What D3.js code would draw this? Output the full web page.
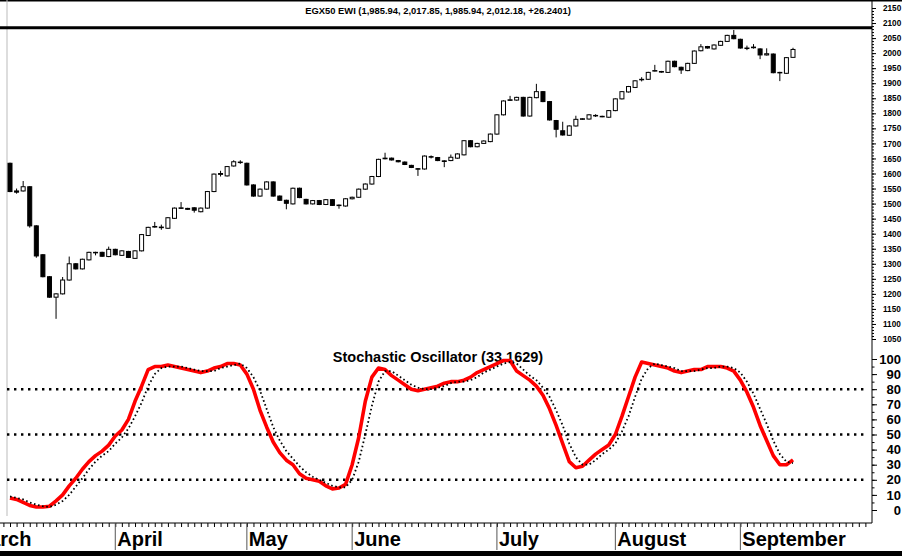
<html>
<head>
<meta charset="utf-8">
<title>EGX50 EWI</title>
<script src="https://cdn.jsdelivr.net/npm/d3@7"></script>
<style>
  body { margin: 0; background: #fff; }
  svg { display: block; font-family: "Liberation Sans", Arial, sans-serif; }
</style>
</head>
<body>
<div id="chart"></div>
<script>
// daily candles, index 0 = first visible trading day
var openP  = [1634,1542,1542,1556,1426,1330,1257,1189,1200,1246,1300,1283,1313,1338,1338,1324,1348,1328,1341,1318,
              1343,1394,1422,1422,1418,1451,1484,1484,1486,1473,1485,1540,1597,1592,1625,1637,1634,1562,1525,1548,
              1572,1525,1511,1499,1551,1514,1499,1510,1497,1513,1495,1492,1516,1521,1548,1565,1590,1649,1651,1643,
              1638,1627,1616,1615,1656,1653,1642,1643,1651,1662,1709,1689,1700,1706,1731,1795,1843,1844,1853,1791,
              1852,1872,1839,1776,1742,1727,1758,1780,1781,1793,1790,1787,1809,1848,1871,1886,1913,1913,1941,1939,
              1936,1973,1953,1942,1966,2008,2022,2014,2026,2039,2059,2046,2017,2020,2014,1994,1997,1936,1933,1985.94];
var highP  = [1636,1550,1575,1558,1428,1332,1259,1202,1256,1324,1302,1317,1340,1340,1340,1357,1350,1345,1343,1345,
              1399,1423,1439,1430,1455,1487,1505,1486,1488,1487,1542,1600,1609,1625,1644,1644,1636,1564,1550,1574,
              1574,1527,1513,1553,1553,1516,1512,1512,1515,1515,1497,1518,1523,1550,1567,1592,1649,1669,1653,1645,
              1640,1629,1618,1660,1660,1655,1644,1663,1667,1711,1711,1702,1710,1733,1797,1843,1858,1855,1855,1855,
              1898,1874,1841,1778,1772,1760,1792,1784,1797,1797,1792,1811,1850,1874,1891,1910,1920,1938,1961,1941,
              1975,1975,1955,1968,2009,2030,2024,2029,2041,2061,2077,2048,2025,2030,2016,2016,1999,1938,1987,2017.85];
var lowP   = [1538,1533,1540,1420,1320,1255,1187,1117,1198,1244,1281,1281,1311,1328,1323,1322,1328,1326,1319,1316,
              1341,1392,1420,1413,1416,1449,1482,1479,1470,1471,1483,1538,1590,1590,1623,1632,1560,1523,1523,1546,
              1523,1509,1481,1497,1518,1497,1497,1495,1495,1492,1483,1490,1514,1519,1546,1563,1588,1647,1643,1637,
              1628,1618,1592,1613,1650,1641,1621,1641,1649,1660,1687,1687,1698,1704,1729,1793,1841,1842,1789,1789,
              1850,1837,1776,1720,1726,1725,1756,1778,1779,1788,1787,1785,1807,1846,1869,1884,1906,1911,1939,1935,
              1934,1953,1931,1940,1964,2006,2015,2012,2024,2037,2046,2015,2010,2015,1980,1992,1933,1907,1931,1985.94];
var closeP = [1540,1538,1556,1426,1326,1257,1189,1200,1246,1300,1283,1315,1338,1338,1325,1348,1330,1343,1321,1343,
              1397,1421,1424,1420,1453,1485,1486,1481,1478,1485,1540,1598,1600,1623,1639,1638,1562,1525,1548,1572,
              1525,1511,1501,1551,1520,1499,1510,1497,1513,1494,1494,1516,1521,1548,1565,1590,1647,1651,1645,1639,
              1630,1620,1615,1658,1655,1643,1640,1654,1665,1709,1689,1700,1708,1731,1795,1841,1845,1853,1791,1853,
              1872,1839,1778,1747,1728,1758,1780,1782,1795,1792,1789,1809,1848,1872,1889,1908,1913,1936,1942,1937,
              1973,1955,1944,1966,2007,2021,2017,2027,2039,2059,2048,2017,2016,2018,1994,1998,1935,1935,1985,2012.18];

// stochastic oscillator (%K red, %D dotted)
var stochK = [8,7,5,3,2,2,2.5,6,10,16,21,27,32,36,39,43,49,53,60,72,
              82,93,95,95,96,95,94,93,92,91,92,94,95,97,97,96,90,80,66,55,
              45,38,33,30,24,21,20,19,16,14,14.6,17,30,48,72,88,94,93,89,86,
              83,80,79,80,81,82,84,85,85,86,88,91,93,95,97,99,99,92,89,86,
              82,76,67,56,44,32,28,29,33,37,40,43,50,62,75,88,98,97,96,95,
              94,92,91,92,93,93,95,95,95,94,92,86,78,68,56,46,36,30,30,33.2];
var stochD = [9,8,7,5,3.5,2.5,2,3.5,6,10,15.5,21,27,32,36,39,44,48,54,62,
              71,82,90,94,95,95,95,94,93,92,92,92,94,95,96,97,94,88,79,67,
              55,46,39,34,29,25,22,20,18,16,15,15,20,32,50,69,85,92,92,89,
              86,83,81,80,80,81,82,84,85,85,86,88,91,93,95,97,98,97,93,89,
              86,81,75,66,56,44,35,30,30,33,37,40,44,52,62,75,87,94,97,96,
              95,94,92,92,92,93,94,94,95,95,94,91,85,77,67,57,46,37,32,31];

var monthNames = ["March", "April", "May", "June", "July", "August", "September"];
var monthStart = [-6, 16, 36, 52, 74, 92, 111];
var stochLevels = [80, 50, 20];
var resistance = 2084;

var width = 902, height = 556;
var axisX = 872, plotLeft = 7, baseY = 523;

var svg = d3.select("#chart").append("svg")
    .attr("width", width)
    .attr("height", height);

var x = d3.scaleLinear().domain([0, 119]).range([10, 793]);
var yP = d3.scaleLinear().domain([1050, 2150]).range([339, 8]);
var yS = d3.scaleLinear().domain([0, 100]).range([510, 359]);

// frame
svg.append("rect").attr("x", 0).attr("y", 0).attr("width", width).attr("height", 1.5).attr("fill", "#000");
svg.append("rect").attr("x", 0).attr("y", 551).attr("width", width).attr("height", 5).attr("fill", "#000");
svg.append("line").attr("x1", plotLeft).attr("x2", plotLeft).attr("y1", 0).attr("y2", 516)
    .attr("stroke", "#bbb").attr("stroke-width", 1);

// title
svg.append("text")
    .attr("x", 438).attr("y", 13.5)
    .attr("text-anchor", "middle")
    .style("font-size", "9.4px").style("font-weight", "bold")
    .text("EGX50 EWI (1,985.94, 2,017.85, 1,985.94, 2,012.18, +26.2401)");

// resistance line
svg.append("line")
    .attr("x1", 0).attr("x2", axisX)
    .attr("y1", yP(resistance)).attr("y2", yP(resistance))
    .attr("stroke", "#000").attr("stroke-width", 3);

// candles
var idx = d3.range(openP.length);
var candles = svg.append("g").selectAll("g").data(idx).enter().append("g");

candles.append("line")
    .attr("x1", function(i) { return x(i); })
    .attr("x2", function(i) { return x(i); })
    .attr("y1", function(i) { return yP(highP[i]); })
    .attr("y2", function(i) { return yP(lowP[i]); })
    .attr("stroke", "#000").attr("stroke-width", 1);

candles.append("rect")
    .attr("x", function(i) { return x(i) - 2; })
    .attr("width", 4)
    .attr("y", function(i) { return yP(Math.max(openP[i], closeP[i])); })
    .attr("height", function(i) { return Math.max(0.5, Math.abs(yP(openP[i]) - yP(closeP[i]))); })
    .attr("fill", function(i) { return closeP[i] < openP[i] ? "#000" : "#fff"; })
    .attr("stroke", "#000").attr("stroke-width", 1);

// price axis
svg.append("line").attr("x1", axisX).attr("x2", axisX).attr("y1", 0).attr("y2", baseY)
    .attr("stroke", "#000").attr("stroke-width", 1);

var pAxis = svg.append("g")
    .attr("transform", "translate(" + axisX + ",0)")
    .call(d3.axisRight(yP).tickValues(d3.range(1050, 2151, 50)).tickFormat(d3.format("d"))
        .tickSize(4).tickPadding(7).tickSizeOuter(0));
pAxis.select(".domain").remove();
pAxis.selectAll("text").style("font-size", "8.2px").style("font-weight", "bold").attr("fill", "#000");

var pMinor = svg.append("g")
    .attr("transform", "translate(" + axisX + ",0)")
    .call(d3.axisRight(yP).tickValues(d3.range(1050, 2151, 10)).tickSize(2).tickFormat(""));
pMinor.select(".domain").remove();

// stochastic panel
svg.append("text")
    .attr("x", 438).attr("y", 362)
    .attr("text-anchor", "middle")
    .style("font-size", "14.5px").style("font-weight", "bold")
    .text("Stochastic Oscillator (33.1629)");

svg.append("g").selectAll("line").data(stochLevels).enter().append("line")
    .attr("x1", plotLeft).attr("x2", axisX - 4)
    .attr("y1", function(d) { return yS(d); })
    .attr("y2", function(d) { return yS(d); })
    .attr("stroke", "#000").attr("stroke-width", 2.4)
    .attr("stroke-dasharray", "2.4,4.6");

var sAxis = svg.append("g")
    .attr("transform", "translate(" + axisX + ",0)")
    .call(d3.axisRight(yS).tickValues(d3.range(0, 101, 10)).tickSize(5).tickFormat("").tickSizeOuter(0));
sAxis.select(".domain").remove();
var sMinor = svg.append("g")
    .attr("transform", "translate(" + axisX + ",0)")
    .call(d3.axisRight(yS).tickValues(d3.range(0, 101, 5)).tickSize(2.5).tickFormat(""));
sMinor.select(".domain").remove();

svg.append("g").selectAll("text").data(d3.range(0, 101, 10)).enter().append("text")
    .attr("x", 901)
    .attr("y", function(d) { return yS(d); })
    .attr("dy", "0.36em")
    .attr("text-anchor", "end")
    .style("font-size", "13px").style("font-weight", "bold")
    .text(function(d) { return d; });

var kLine = d3.line()
    .x(function(i) { return x(i); })
    .y(function(i) { return yS(stochK[i]); });
var dLine = d3.line()
    .x(function(i) { return x(i); })
    .y(function(i) { return yS(stochD[i]); });

svg.append("path").datum(idx)
    .attr("fill", "none").attr("stroke", "#ff0000").attr("stroke-width", 3.6)
    .attr("stroke-linejoin", "round")
    .attr("d", kLine);

svg.append("path").datum(idx)
    .attr("fill", "none").attr("stroke", "#000").attr("stroke-width", 1.8)
    .attr("stroke-dasharray", "1.6,2.6")
    .attr("d", dLine);

// time axis
svg.append("line").attr("x1", 0).attr("x2", axisX).attr("y1", baseY).attr("y2", baseY)
    .attr("stroke", "#000").attr("stroke-width", 1);

var tAxis = svg.append("g")
    .attr("transform", "translate(0," + baseY + ")")
    .call(d3.axisBottom(x).tickValues(d3.range(-2, 131)).tickSize(4).tickFormat("").tickSizeOuter(0));
tAxis.select(".domain").remove();

svg.append("g").selectAll("line").data(monthStart).enter().append("line")
    .attr("x1", function(d) { return x(d); })
    .attr("x2", function(d) { return x(d); })
    .attr("y1", baseY).attr("y2", 550)
    .attr("stroke", "#555").attr("stroke-width", 1);

svg.append("g").selectAll("text").data(monthNames).enter().append("text")
    .attr("x", function(d, i) { return x(monthStart[i]) + 2; })
    .attr("y", 546)
    .style("font-size", "20px").style("font-weight", "bold")
    .text(function(d) { return d; });
</script>
</body>
</html>
